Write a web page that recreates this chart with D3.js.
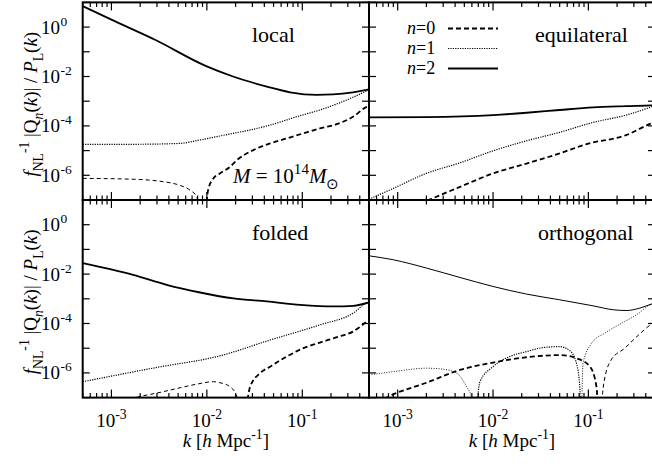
<!DOCTYPE html>
<html><head><meta charset="utf-8">
<script src="https://cdn.jsdelivr.net/npm/d3@7"></script>
<style>
body{margin:0;background:#fff}
svg{display:block}
</style>
</head><body>
<svg id="chart" width="652" height="466" font-family="Liberation Serif"></svg>
<script>
// ---------- data ----------
const xDomain = [5e-4, 0.5];
const yDomain = [1e-7, 1e1];
const xTickValues = [1e-3, 1e-2, 1e-1];
const xTickExps = ["-3", "-2", "-1"];
const yTickValues = [1, 1e-2, 1e-4, 1e-6];
const yTickExps = ["0", "-2", "-4", "-6"];
const panelNames = ["local", "equilateral", "folded", "orthogonal"];
const seriesNames = ["0", "1", "2"]; // n = 0,1,2

// [k, signed value]; negative values drawn thin, positive thick
const localN2 = [[5e-4,7.1],[1e-3,2.0],[2.9e-3,0.30],[9.7e-3,0.027],[1.88e-2,1.0e-2],[4.25e-2,3.9e-3],[7.45e-2,2.3e-3],[0.142,1.82e-3],[0.21,1.88e-3],[0.34,2.27e-3],[0.5,3.0e-3]];
const localN1 = [[5e-4,1.8e-5],[1.6e-3,1.8e-5],[5.2e-3,1.95e-5],[8.5e-3,2.7e-5],[1.37e-2,3.9e-5],[4.6e-2,1.08e-4],[9.5e-2,2.6e-4],[0.153,4.4e-4],[0.34,1.45e-3],[0.5,2.9e-3]];
const localN0 = [[5e-4,-7.5e-7],[1.57e-3,-7.0e-7],[3.5e-3,-5.5e-7],[5.24e-3,-3.9e-7],[6.67e-3,-2.5e-7],[7.83e-3,-1.35e-7],[9.0e-3,0],[1.03e-2,2.5e-7],[1.17e-2,7.5e-7],[1.37e-2,1.19e-6],[1.75e-2,2.2e-6],[2.06e-2,4.1e-6],[3.07e-2,1.05e-5],[4.59e-2,1.95e-5],[6.87e-2,3.1e-5],[0.1026,5.0e-5],[0.153,7.9e-5],[0.23,1.18e-4],[0.34,2.33e-4],[0.474,5.9e-4],[0.5,6.3e-4]];

const equilN2 = [[5e-4,2.2e-4],[2.0e-3,2.27e-4],[1.0e-2,2.74e-4],[2.25e-2,3.4e-4],[5.0e-2,4.4e-4],[0.112,5.6e-4],[0.25,6.3e-4],[0.46,6.8e-4],[0.5,6.9e-4]];
const equilN1 = [[5e-4,1.07e-7],[9.0e-4,2.95e-7],[2.0e-3,1.2e-6],[4.5e-3,3.2e-6],[1.0e-2,9.8e-6],[2.25e-2,2.5e-5],[5.0e-2,5.5e-5],[0.112,1.38e-4],[0.25,2.75e-4],[0.46,5.9e-4],[0.5,6.6e-4]];
const equilN0 = [[1.0e-3,3.0e-8],[2.2e-3,1.07e-7],[4.5e-3,3.4e-7],[1.0e-2,1.19e-6],[2.25e-2,3.0e-6],[5.0e-2,7.7e-6],[9.6e-2,1.83e-5],[0.25,4.25e-5],[0.46,1.26e-4],[0.5,1.4e-4]];

const foldN2 = [[5e-4,2.8e-2],[1.69e-3,9.4e-3],[3.79e-3,3.7e-3],[8.5e-3,1.8e-3],[1.9e-2,1.03e-3],[4.25e-2,7.8e-4],[9.5e-2,5.7e-4],[0.212,4.9e-4],[0.343,5.2e-4],[0.5,7.1e-4]];
const foldN1 = [[5e-4,4.4e-7],[2.87e-3,1.62e-6],[1.37e-2,4.9e-6],[4.6e-2,2.14e-5],[0.153,8.8e-5],[0.34,2.6e-4],[0.474,6.8e-4],[0.5,7.3e-4]];
const foldN0 = [[5e-4,-2.5e-8],[1.77e-3,-1.0e-7],[3.5e-3,-1.74e-7],[5.24e-3,-2.5e-7],[7.83e-3,-3.5e-7],[1.17e-2,-4.4e-7],[1.37e-2,-4.0e-7],[1.75e-2,-2.75e-7],[2.06e-2,-1.1e-7],[2.28e-2,0],[2.84e-2,2.75e-7],[3.61e-2,9.8e-7],[4.6e-2,1.79e-6],[6.87e-2,4.6e-6],[0.1026,1.0e-5],[0.153,1.69e-5],[0.23,2.8e-5],[0.34,4.7e-5],[0.474,1.2e-4],[0.5,1.4e-4]];

const orthN2 = [[5e-4,-5.5e-2],[9.0e-4,-3.8e-2],[2.0e-3,-1.76e-2],[4.5e-3,-7.3e-3],[1.0e-2,-3.16e-3],[2.25e-2,-1.55e-3],[5.0e-2,-9.1e-4],[0.112,-5.2e-4],[0.182,-3.6e-4],[0.25,-3.35e-4],[0.347,-4.2e-4],[0.46,-6.1e-4],[0.5,-6.6e-4]];
const orthN1 = [[5e-4,-8.3e-7],[9.0e-4,-1.12e-6],[2.0e-3,-1.55e-6],[3.0e-3,-1.41e-6],[4.15e-3,-9.8e-7],[5.28e-3,-2.75e-7],[5.96e-3,-1.0e-7],[6.2e-3,0],[7.29e-3,4.4e-7],[1.0e-2,1.79e-6],[1.5e-2,4.6e-6],[2.25e-2,7.3e-6],[3.36e-2,1.06e-5],[5.0e-2,1.16e-5],[6.4e-2,7.9e-6],[7.5e-2,2.45e-6],[8.14e-2,2.5e-7],[8.34e-2,0],[8.8e-2,-2.5e-6],[0.108,-1.58e-5],[0.149,-4.1e-5],[0.223,-1.02e-4],[0.333,-2.5e-4],[0.46,-6.3e-4],[0.5,-6.9e-4]];
const orthN0 = [[5e-4,6e-8],[7.6e-4,1.0e-7],[9.0e-4,1.35e-7],[2.0e-3,4.0e-7],[4.5e-3,1.32e-6],[1.0e-2,2.63e-6],[2.25e-2,4.3e-6],[5.0e-2,5.25e-6],[7.5e-2,3.9e-6],[0.104,1.78e-6],[0.122,2.5e-7],[0.13,0],[0.143,-2.5e-7],[0.172,-3.2e-6],[0.241,-1.0e-5],[0.33,-3.2e-5],[0.46,-9.5e-5],[0.5,-1.15e-4]];

// ---------- layout ----------
const svg = d3.select("#chart");
const FS = 19;
const colX = [[82.7, 369], [369, 655]];
const rowY = [[2.4, 200], [200, 397.6]];
const panels = [
  {name: panelNames[0], series: [localN0, localN1, localN2], c: 0, r: 0, lx: 252, ly: 42},
  {name: panelNames[1], series: [equilN0, equilN1, equilN2], c: 1, r: 0, lx: 535, ly: 42},
  {name: panelNames[2], series: [foldN0, foldN1, foldN2], c: 0, r: 1, lx: 252, ly: 240},
  {name: panelNames[3], series: [orthN0, orthN1, orthN2], c: 1, r: 1, lx: 538, ly: 240}
];

function styleFor(n, positive) {
  if (n === 2) return {w: positive ? 1.8 : 1.0, dash: null};
  if (n === 1) return {w: positive ? 1.2 : 0.9, dash: positive ? "1.2,1.2" : "1,1.5"};
  return {w: positive ? 1.8 : 1.0, dash: positive ? "5,3" : "4,3"};
}

function splitBySign(data) {
  const segs = [];
  let cur = {pts: [], sign: 0};
  data.forEach(d => {
    if (d[1] === 0) {
      cur.pts.push(d);
      segs.push(cur);
      cur = {pts: [d], sign: 0};
    } else {
      const s = d[1] > 0 ? 1 : -1;
      if (cur.sign === 0) cur.sign = s;
      cur.pts.push(d);
    }
  });
  segs.push(cur);
  return segs.filter(s => s.pts.length > 1);
}

function rich(sel, x, y, parts, size, anchor, rotate) {
  const t = sel.append("text")
    .attr("transform", `translate(${x},${y})` + (rotate ? ` rotate(${rotate})` : ""))
    .attr("text-anchor", anchor || "start")
    .style("font-size", size + "px");
  let level = 0;
  parts.forEach(p => {
    const target = p.sub ? size * 0.3 : p.sup ? -size * 0.42 : 0;
    const ts = t.append("tspan").attr("dy", target - level).text(p.t);
    if (p.sub || p.sup) ts.style("font-size", (size * 0.72) + "px");
    if (p.i) ts.style("font-style", "italic");
    level = target;
  });
  return t;
}

panels.forEach((p, pi) => {
  const [x0, x1] = colX[p.c];
  const [y0, y1] = rowY[p.r];
  const x = d3.scaleLog().domain(xDomain).range([x0, x1]);
  const y = d3.scaleLog().domain(yDomain).range([y1, y0]);
  const g = svg.append("g");
  const clipId = "clip" + pi;
  svg.append("clipPath").attr("id", clipId).append("rect")
    .attr("x", x0).attr("y", y0).attr("width", x1 - x0).attr("height", y1 - y0);

  const line = d3.line()
    .x(d => x(d[0]))
    .y(d => y(Math.max(Math.abs(d[1]), 1e-10)))
    .curve(d3.curveMonotoneX);

  const cg = g.append("g").attr("clip-path", `url(#${clipId})`);
  p.series.forEach((data, n) => {
    splitBySign(data).forEach(seg => {
      const st = styleFor(n, seg.sign > 0);
      cg.append("path").attr("d", line(seg.pts))
        .attr("fill", "none").attr("stroke", "#000")
        .attr("stroke-width", st.w)
        .attr("stroke-dasharray", st.dash);
    });
  });

  const tg = g.append("g").attr("stroke", "#000").attr("stroke-width", 1.2);
  x.ticks().forEach(t => {
    const major = Math.abs(Math.log10(t) - Math.round(Math.log10(t))) < 1e-6;
    const L = major ? 8 : 4.5;
    const px = x(t);
    tg.append("line").attr("x1", px).attr("x2", px).attr("y1", y1).attr("y2", y1 - L);
    tg.append("line").attr("x1", px).attr("x2", px).attr("y1", y0).attr("y2", y0 + L);
  });
  y.ticks().filter(t => Math.abs(Math.log10(t) - Math.round(Math.log10(t))) < 1e-6).forEach(t => {
    const py = y(t);
    tg.append("line").attr("x1", x0).attr("x2", x0 + 7).attr("y1", py).attr("y2", py);
    tg.append("line").attr("x1", x1).attr("x2", x1 - 7).attr("y1", py).attr("y2", py);
  });

  g.append("rect").attr("x", x0).attr("y", y0).attr("width", x1 - x0).attr("height", y1 - y0)
    .attr("fill", "none").attr("stroke", "#000").attr("stroke-width", 2);

  g.append("text").attr("x", p.lx).attr("y", p.ly).style("font-size", "22px").text(p.name);

  if (p.c === 0) {
    yTickValues.forEach((v, i) => {
      const py = y(v) + 6.5;
      g.append("text").attr("x", 60).attr("y", py).attr("text-anchor", "end").style("font-size", FS + "px").text("10");
      g.append("text").attr("x", 60.5).attr("y", py - 8).style("font-size", "13.5px").text(yTickExps[i]);
    });
    rich(g, 37, (y0 + y1) / 2 + 3, [
      {t: "f", i: true}, {t: "NL", sub: true}, {t: "-1", sup: true},
      {t: " |Q"}, {t: "n", sub: true, i: true}, {t: "("}, {t: "k", i: true}, {t: ")| / "},
      {t: "P", i: true}, {t: "L", sub: true}, {t: "("}, {t: "k", i: true}, {t: ")"}
    ], FS, "middle", -90);
  }
  if (p.r === 1) {
    xTickValues.forEach((v, i) => {
      rich(g, x(v), 427, [{t: "10"}, {t: xTickExps[i], sup: true}], FS, "middle");
    });
    rich(g, (x0 + x1) / 2, 447, [
      {t: "k", i: true}, {t: " ["}, {t: "h", i: true}, {t: " Mpc"}, {t: "-1", sup: true}, {t: "]"}
    ], FS, "middle");
  }

  if (pi === 0) {
    rich(g, 233, 183, [
      {t: "M", i: true}, {t: " = 10"}, {t: "14", sup: true}, {t: "M", i: true}, {t: "\u2299", sub: true}
    ], 21, "start");
  }
  if (pi === 1) {
    // legend: one line per series
    seriesNames.forEach((s, n) => {
      const ly = 28.5 + n * 20;
      rich(g, 407, ly + 5, [{t: "n", i: true}, {t: "=" + s}], 18, "start");
      const st = styleFor(n, true);
      g.append("line").attr("x1", 448).attr("x2", 498).attr("y1", ly).attr("y2", ly)
        .attr("stroke", "#000").attr("stroke-width", st.w).attr("stroke-dasharray", st.dash);
    });
  }
});
</script>
</body></html>
